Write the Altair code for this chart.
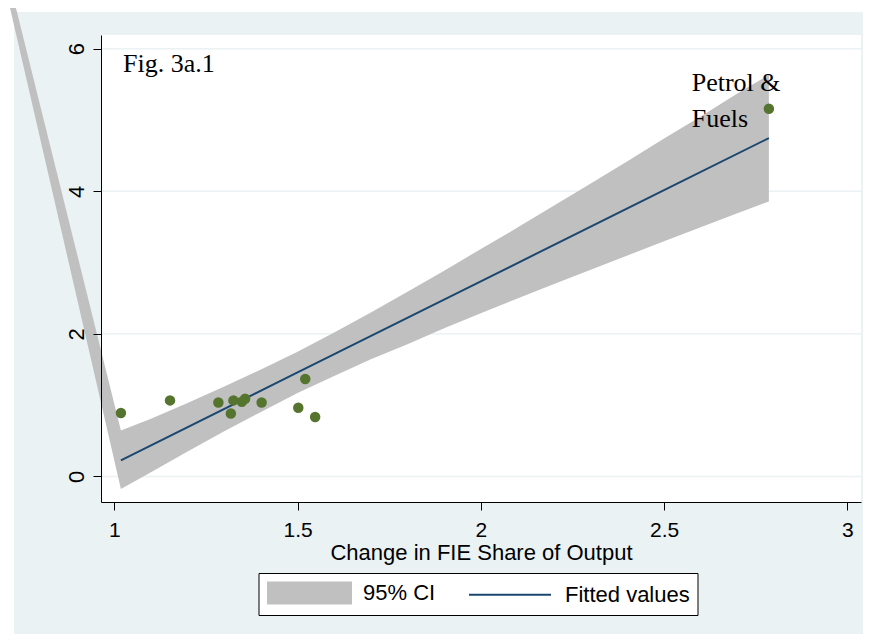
import altair as alt
import pandas as pd

# ---- data ----
pt_x = [1.018, 1.152, 1.284, 1.325, 1.318, 1.348, 1.357, 1.402, 1.502, 1.521, 1.548, 2.786]
pt_y = [0.889, 1.066, 1.037, 1.066, 0.883, 1.047, 1.089, 1.037, 0.963, 1.366, 0.833, 5.157]

# 95% CI band; the first vertex is the stray vertex that the original draws off the plot
ci_x = [0.508, 1.018, 1.1, 1.2, 1.3, 1.4, 1.5, 1.6, 1.7, 1.8, 1.9, 2.0, 2.1, 2.2, 2.3,
        2.4, 2.5, 2.6, 2.7, 2.786]
ci_lo = [11.2, -0.177, 0.06, 0.35, 0.635, 0.905, 1.17, 1.41, 1.645, 1.855, 2.08, 2.29, 2.495,
         2.70, 2.90, 3.10, 3.30, 3.495, 3.69, 3.857]
ci_hi = [11.2, 0.645, 0.81, 1.03, 1.26, 1.50, 1.75, 2.02, 2.30, 2.59, 2.885, 3.19, 3.49,
         3.80, 4.11, 4.42, 4.74, 5.05, 5.37, 5.634]

fit_x = [1.018, 1.5, 2.0, 2.5, 2.786]
fit_y = [0.224, 1.458, 2.737, 4.015, 4.746]

x_ticks = [1, 1.5, 2, 2.5, 3]
y_ticks = [0, 2, 4, 6]
series = ["95% CI", "Fitted values"]

fig_label = ["Fig. 3a.1"]
fig_x, fig_y = [1.024], [5.666]
pf_label = ["Petrol &", "Fuels"]
pf_x, pf_y = [2.5755], [5.40]

# ---- styles ----
BG = "#EAF2F3"
GRAY = "#C0C0C0"
NAVY = "#1A476F"
GREEN = "#55752F"
W, H = 760, 467
RECT_PATH = "M-0.913,-0.913H6.304V0.913H-0.913Z"
LINE_PATH = "M-1,0H6.13"
FS = 22

xs = alt.Scale(domain=[0.9637, 3.0374], nice=False, zero=False)
ys = alt.Scale(domain=[-0.359, 6.192], nice=False, zero=False)

x_axis = alt.Axis(values=x_ticks, format="~g", labelFlush=False, labelPadding=9, labelFontSize=21,
                  title="Change in FIE Share of Output", titlePadding=2, zindex=1)
y_axis = alt.Axis(values=y_ticks, labelAngle=270, labelPadding=5, title=None, zindex=1)

pts = pd.DataFrame({"x": pt_x, "y": pt_y})
ci = pd.DataFrame({"x": ci_x, "lo": ci_lo, "hi": ci_hi})
fit = pd.DataFrame({"x": fit_x, "y": fit_y})
grid = pd.DataFrame({"g": y_ticks})
one = pd.DataFrame({"k": [0]})
keys = pd.DataFrame({"s": series})

bg = alt.Chart(one).mark_rect(color=BG).encode(
    x=alt.value(-87), x2=alt.value(W + 20), y=alt.value(-23), y2=alt.value(H + 150))
panel = alt.Chart(one).mark_rect(color="white").encode(
    x=alt.value(0), x2=alt.value(W), y=alt.value(0), y2=alt.value(H))
gridl = alt.Chart(grid).mark_rule(color=BG, strokeWidth=1.5).encode(
    y=alt.Y("g:Q", scale=ys, axis=y_axis), x=alt.value(0), x2=alt.value(W))

legend = alt.Legend(
    title=None, orient="none", legendX=157.5, legendY=538, direction="horizontal",
    strokeColor="black", fillColor="white", padding=7.5,
    labelFont="Liberation Sans", labelFontSize=FS, labelColor="black",
    labelOffset=72, columnPadding=29, symbolSize=529, symbolStrokeWidth=2, symbolOpacity=1,
)

band = alt.Chart(ci).mark_area(color=GRAY, opacity=1).encode(
    x=alt.X("x:Q", scale=xs, axis=x_axis),
    y=alt.Y("lo:Q", scale=ys, axis=y_axis),
    y2="hi:Q",
)
line = alt.Chart(fit).mark_line(color=NAVY, strokeWidth=2).encode(
    x=alt.X("x:Q", scale=xs, axis=x_axis), y=alt.Y("y:Q", scale=ys, axis=y_axis))
dots = alt.Chart(pts).mark_circle(color=GREEN, size=110, opacity=1).encode(
    x=alt.X("x:Q", scale=xs, axis=x_axis), y=alt.Y("y:Q", scale=ys, axis=y_axis))

# legend key layer (no visible marks, only the legend)
key = alt.Chart(keys).transform_filter("false").mark_point(size=529, strokeWidth=2, opacity=1).encode(
    shape=alt.Shape("s:N", scale=alt.Scale(domain=series, range=[RECT_PATH, LINE_PATH]), legend=legend),
    fill=alt.Fill("s:N", scale=alt.Scale(domain=series, range=[GRAY, "transparent"]), legend=legend),
    stroke=alt.Stroke("s:N", scale=alt.Scale(domain=series, range=[GRAY, NAVY]), legend=legend),
)

figt = alt.Chart(pd.DataFrame({"x": fig_x, "y": fig_y, "t": fig_label})).mark_text(
    font="Liberation Serif", fontSize=26, align="left", baseline="alphabetic", color="black"
).encode(x=alt.X("x:Q", scale=xs, axis=x_axis), y=alt.Y("y:Q", scale=ys, axis=y_axis), text="t:N")
pft = alt.Chart(pd.DataFrame({"x": pf_x, "y": pf_y})).mark_text(
    text=pf_label, lineHeight=35.6,
    font="Liberation Serif", fontSize=26, align="left", baseline="alphabetic", color="black"
).encode(x=alt.X("x:Q", scale=xs, axis=x_axis), y=alt.Y("y:Q", scale=ys, axis=y_axis))

chart = alt.layer(bg, panel, gridl, band, line, dots, figt, pft, key).properties(
    width=W, height=H,
    autosize=alt.AutoSizeParams(type="none"),
    padding={"left": 93, "top": 27, "right": 2, "bottom": 132},
    background="white",
).configure_view(strokeWidth=0).configure_axis(
    labelFont="Liberation Sans", labelFontSize=FS, labelColor="black",
    titleFont="Liberation Sans", titleFontSize=FS, titleColor="black", titleFontWeight="normal",
    domainColor="black", domainWidth=1, tickColor="black", tickWidth=1, tickSize=8,
    grid=False,
)

chart.save("out.html", embed_options={"renderer": "svg", "actions": False})
